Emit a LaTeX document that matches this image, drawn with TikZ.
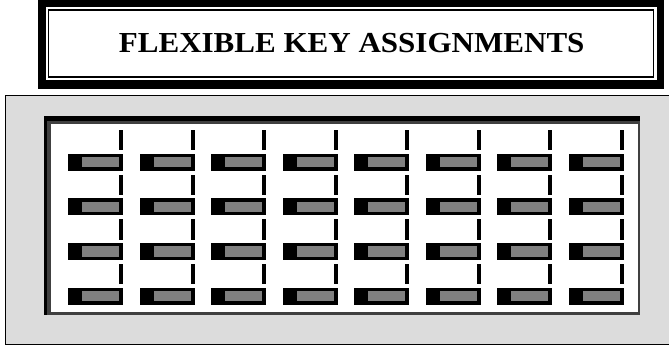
\documentclass[tikz,border=0pt]{standalone}
\usepackage{fontspec}
\setmainfont{Liberation Serif}
\definecolor{panelgrey}{RGB}{220,220,220}
\definecolor{keygrey}{RGB}{128,128,128}
\definecolor{edgegrey}{RGB}{64,64,64}
\begin{document}
\begin{tikzpicture}[x=1pt,y=-1pt,
  keybody/.style={fill=black},
  keyface/.style={fill=keygrey},
  keytick/.style={fill=black}]
\useasboundingbox (0,0) rectangle (669,346);
\fill[white] (0,0) rectangle (669,346);
% title frame
\fill[black] (37.7,0) rectangle (664.3,89);
\fill[white] (45.7,6.8) rectangle (656.7,80);
\draw[line width=1.6pt] (48.6,9.8) rectangle (653.6,76.8);
\node[font=\bfseries\fontsize{29}{32}\selectfont, inner sep=0pt, xscale=1.07] (title) at (351.7,43.5) {FLEXIBLE KEY ASSIGNMENTS};
% panel
\fill[panelgrey] (5.5,95.5) rectangle (669,344.5);
\draw[line width=1.6pt] (669,95.5) -| (5.5,344.5) -- (669,344.5);
% display
\fill[edgegrey] (44,116) rectangle (640,315);
\fill[black] (44,116) rectangle (640,120.5);
\fill[black] (44,116) rectangle (46.7,315);
\fill[white] (50.7,124) rectangle (638.3,311.5);
% keys
\foreach \i in {0,...,7}{
  \foreach \j in {0,...,3}{
    \pgfmathsetmacro{\xa}{68+\i*71.5}
    \pgfmathsetmacro{\ya}{153.5+\j*44.7}
    \fill[keybody] (\xa,\ya) rectangle ++(55,17);
    \fill[keyface] (\xa+14,\ya+3.4) rectangle ++(37,10.2);
    \fill[keytick] (\xa+51,\ya-23.5) rectangle ++(4,20.2);
  }
}
\end{tikzpicture}
\end{document}
